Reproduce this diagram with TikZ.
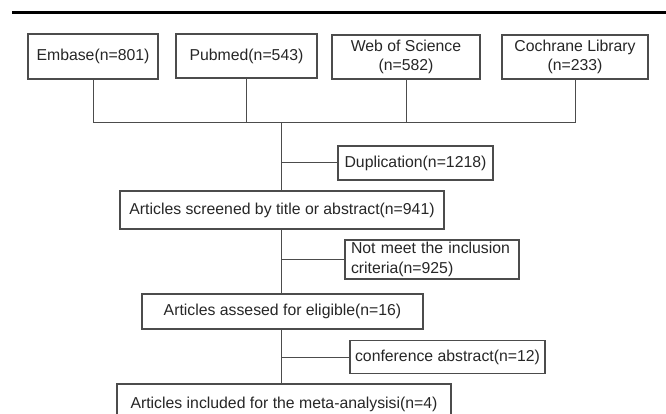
\documentclass[tikz,border=0pt]{standalone}
\usepackage{fontspec}
\setmainfont{Liberation Sans}
\usepackage{tikz}
\tikzset{
box/.style={draw=black!70, line width=1.1pt, inner sep=0pt, text=black!85, font=\fontsize{15.8}{19.5}\selectfont},
link/.style={draw=black!70, line width=1pt}}

\begin{document}
\begin{tikzpicture}[x=1pt, y=-1pt]
    \useasboundingbox (0,0) rectangle (666,414);
    \clip (0,0) rectangle (666,414);

                \draw[line width=3.5pt] (12,12.5) -- (680,12.5);

                \node[box, minimum width=130pt, minimum height=45pt] (emb) at (93,56.5) {Embase(n=801)};
                \node[box, minimum width=141pt, minimum height=44pt] (pub) at (246.5,56) {Pubmed(n=543)};
                \node[box, minimum width=148pt, minimum height=44pt, align=center] (wos) at (406,57) {Web of Science\\(n=582)};
                \node[box, minimum width=146pt, minimum height=44pt, align=center] (coch) at (575,57) {Cochrane Library\\(n=233)};
                \coordinate (cj) at (281,123);

                \node[box, minimum width=324pt, minimum height=38pt] (screen) at (282,210) {Articles screened by title or abstract(n=941)};
                \node[box, minimum width=155pt, minimum height=34pt] (dup) at (415.5,163) {Duplication(n=1218)};
                \node[box, minimum height=39pt, inner xsep=6pt, align=left, text width=162pt] (excl) at (432,259.5) {Not meet the inclusion\\criteria(n=925)};
                \node[box, minimum width=281pt, minimum height=35pt] (elig) at (282.5,311.5) {Articles assesed for eligible(n=16)};
                \node[box, minimum width=195pt, minimum height=33pt] (conf) at (447.5,357) {conference abstract(n=12)};
                \node[box, minimum width=334pt, minimum height=40pt] (incl) at (284,404) {Articles included for the meta-analysisi(n=4)};

                \draw[link] (emb.south) |- (cj);
                \draw[link] (pub.south) |- (cj);
                \draw[link] (wos.south) |- (cj);
                \draw[link] (coch.south) |- (cj);
                \draw[link] (cj) -- (cj |- screen.north);
                \draw[link] (cj |- dup.west) -- (dup.west);
                \draw[link] (cj |- screen.south) -- (cj |- elig.north);
                \draw[link] (cj |- excl.west) -- (excl.west);
                \draw[link] (cj |- elig.south) -- (cj |- incl.north);
                \draw[link] (cj |- conf.west) -- (conf.west);

            \end{tikzpicture}
\end{document}
